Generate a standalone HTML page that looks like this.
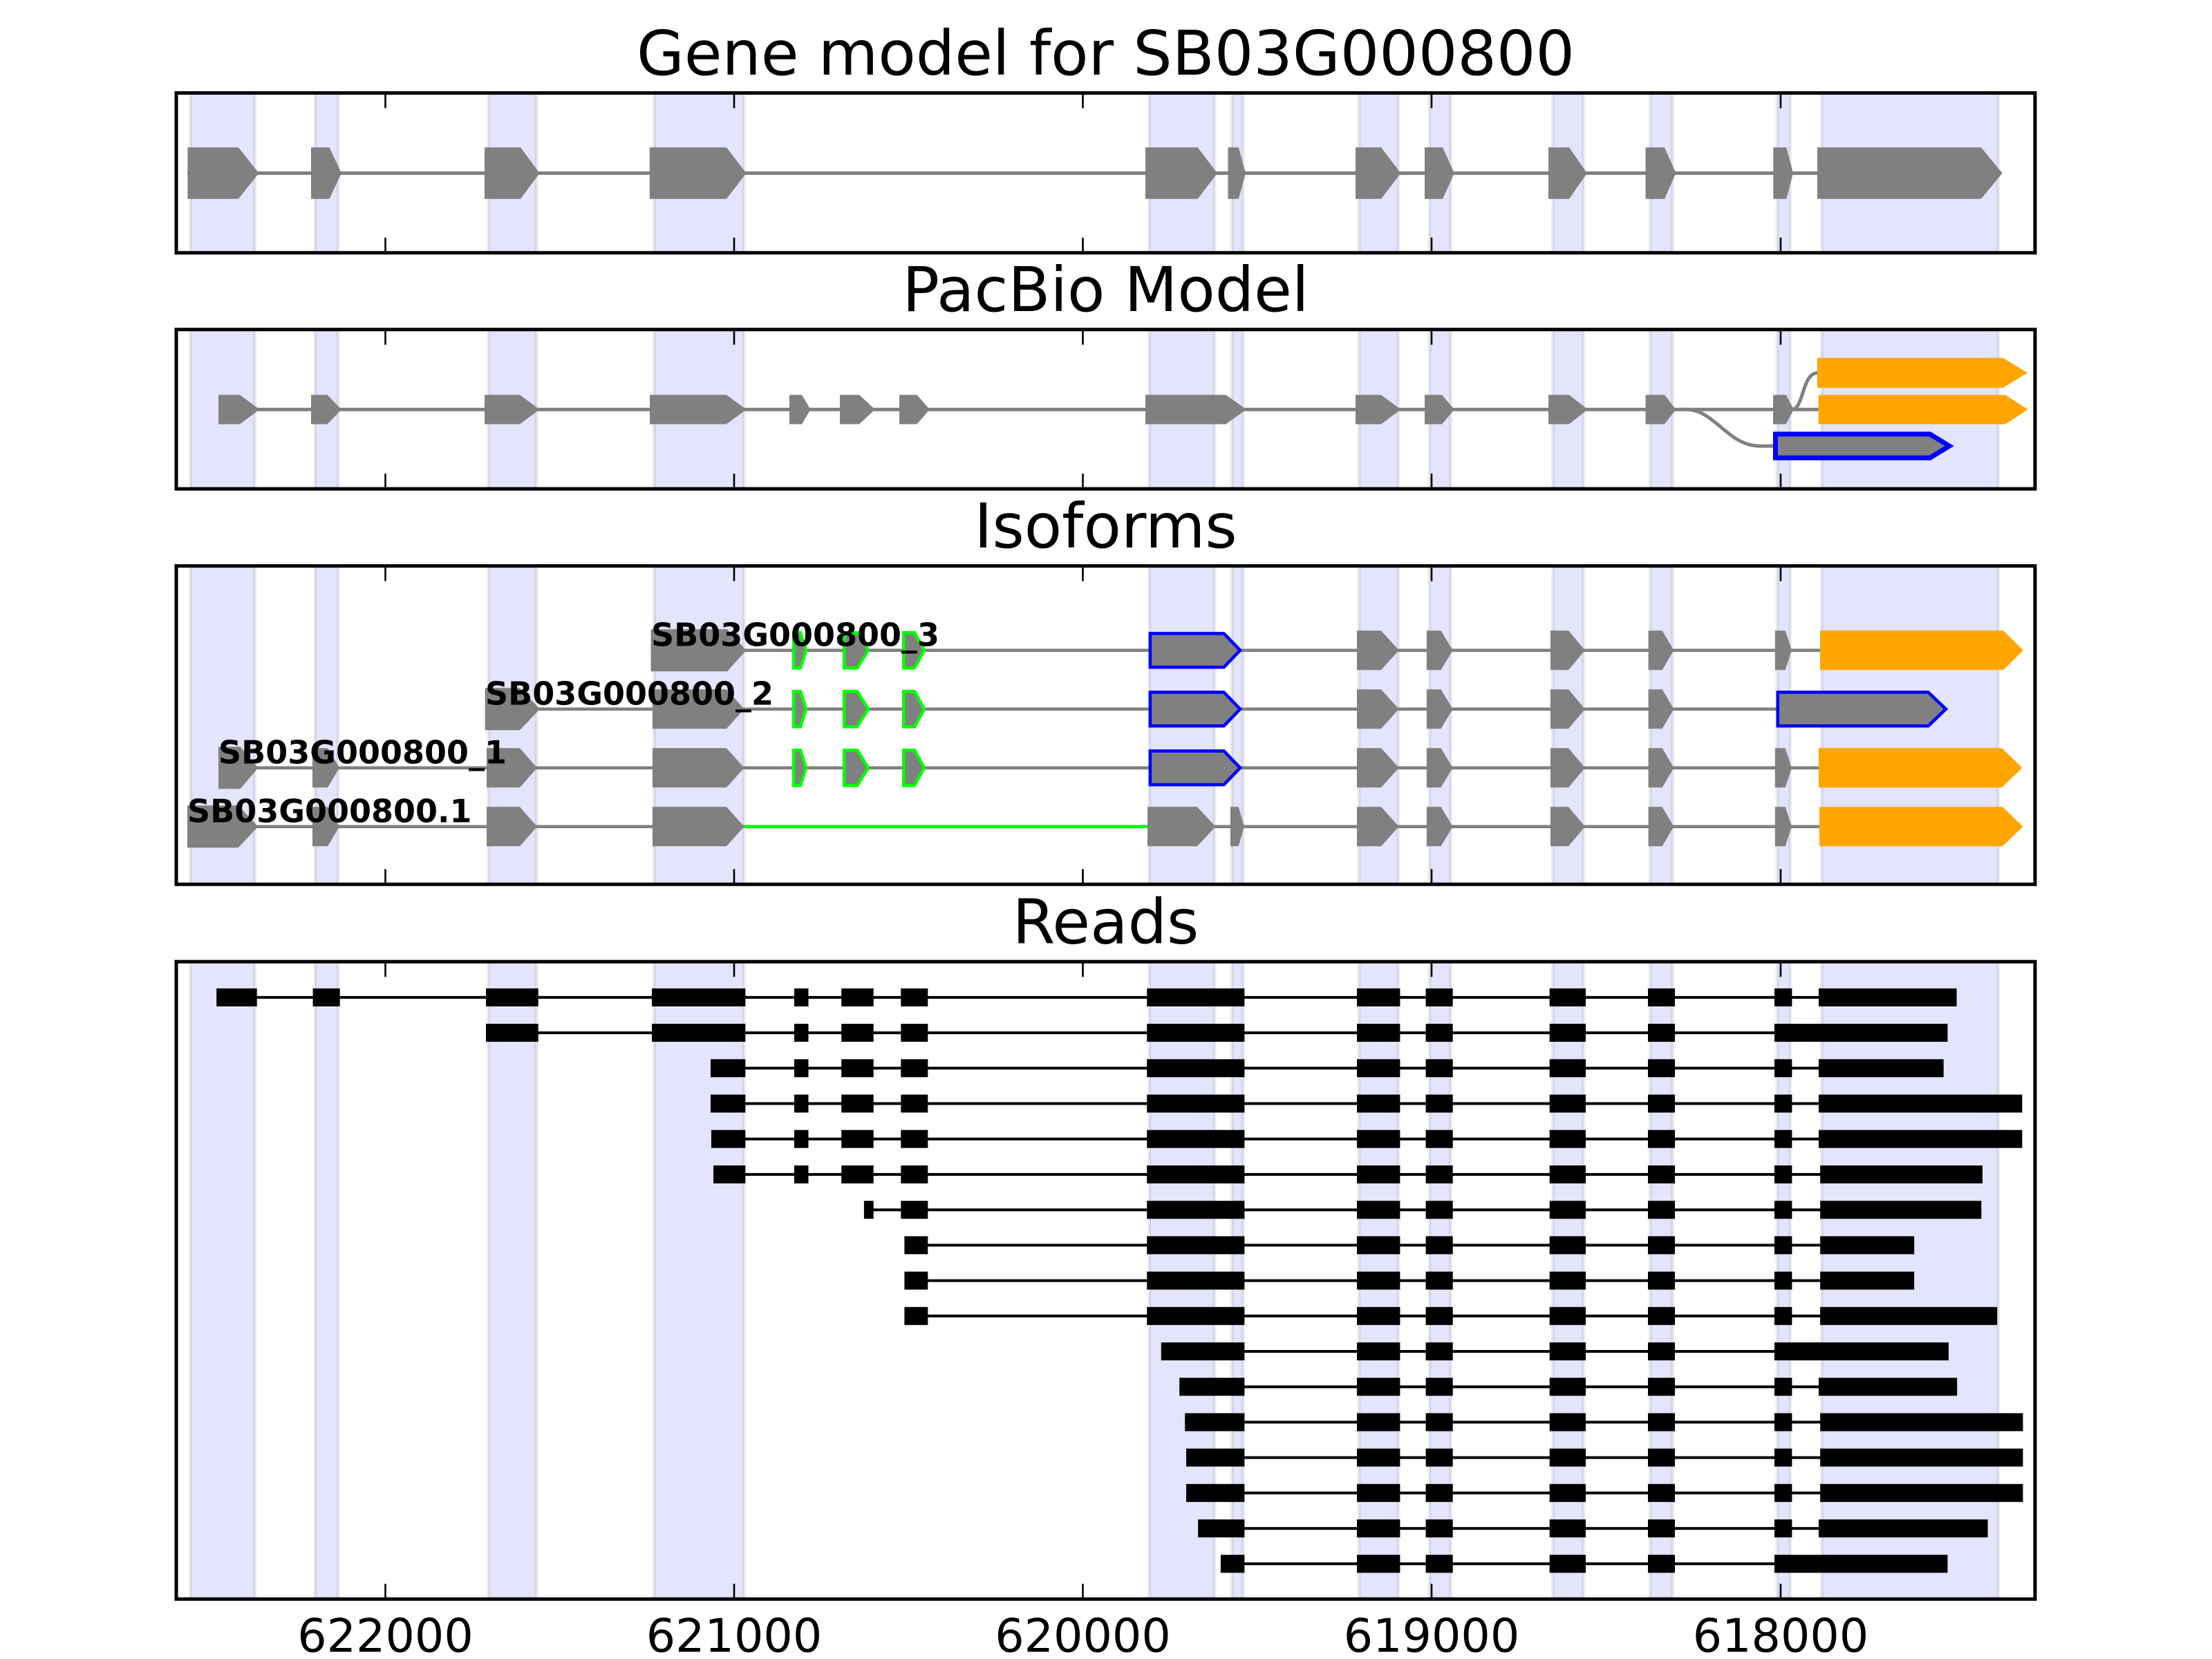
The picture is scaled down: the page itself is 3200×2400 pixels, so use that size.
<!DOCTYPE html>
<html><head><meta charset="utf-8"><style>html,body{margin:0;padding:0;background:#fff}svg{display:block}</style></head>
<body>
<svg xmlns="http://www.w3.org/2000/svg" xmlns:xlink="http://www.w3.org/1999/xlink" width="3200" height="2400" viewBox="0 0 3200 2400" font-family="'DejaVu Sans','Liberation Sans',sans-serif">
<defs>
<clipPath id="ax">
<rect x="255" y="134.5" width="2689" height="231.2"/>
<rect x="255" y="476.7" width="2689" height="230.5"/>
<rect x="255" y="818.7" width="2689" height="460.6"/>
<rect x="255" y="1391.2" width="2689" height="922.1"/>
</clipPath>
<g id="tt" stroke="#000" stroke-width="2.6">
<line x1="557.5" y1="0" x2="557.5" y2="22"/><line x1="1062" y1="0" x2="1062" y2="22"/><line x1="1566.5" y1="0" x2="1566.5" y2="22"/><line x1="2071" y1="0" x2="2071" y2="22"/><line x1="2576" y1="0" x2="2576" y2="22"/>
</g>
<g id="tb" stroke="#000" stroke-width="2.6">
<line x1="557.5" y1="-22" x2="557.5" y2="0"/><line x1="1062" y1="-22" x2="1062" y2="0"/><line x1="1566.5" y1="-22" x2="1566.5" y2="0"/><line x1="2071" y1="-22" x2="2071" y2="0"/><line x1="2576" y1="-22" x2="2576" y2="0"/>
</g>
<g id="EFG"><rect x="1149" y="-13" width="20.5" height="26"/><rect x="1217.2" y="-13" width="46.5" height="26"/><rect x="1303.3" y="-13" width="39" height="26"/></g>
<rect id="H" x="1659.2" y="-13" width="141.1" height="26"/>
<rect id="I" x="1963" y="-13" width="62.4" height="26"/>
<g id="JKL"><rect x="2062.6" y="-13" width="39.1" height="26"/><rect x="2241.7" y="-13" width="52.3" height="26"/><rect x="2384" y="-13" width="39" height="26"/></g>
<rect id="M" x="2567" y="-13" width="25.4" height="26"/>
</defs>

<rect width="3200" height="2400" fill="#fff"/>

<!-- shading -->
<g clip-path="url(#ax)" fill="#e4e4fc" stroke="rgba(0,0,0,0.075)" stroke-width="5">
<rect x="275.6" y="-10" width="93" height="2420"/>
<rect x="455.8" y="-10" width="33.4" height="2420"/>
<rect x="706.6" y="-10" width="69.5" height="2420"/>
<rect x="946.3" y="-10" width="130" height="2420"/>
<rect x="1662.8" y="-10" width="94.2" height="2420"/>
<rect x="1782" y="-10" width="16.4" height="2420"/>
<rect x="1966.1" y="-10" width="56.9" height="2420"/>
<rect x="2068" y="-10" width="30.6" height="2420"/>
<rect x="2246.5" y="-10" width="44.3" height="2420"/>
<rect x="2387.2" y="-10" width="32.5" height="2420"/>
<rect x="2571.2" y="-10" width="18.6" height="2420"/>
<rect x="2635.3" y="-10" width="255.7" height="2420"/>
</g>

<!-- titles -->
<g font-size="88.9" text-anchor="middle" fill="#000">
<text x="1599.5" y="108">Gene model for SB03G000800</text>
<text x="1599.5" y="450">PacBio Model</text>
<text x="1599.5" y="792">Isoforms</text>
<text x="1599.5" y="1364.7">Reads</text>
</g>

<!-- Panel 1: gene model -->
<g transform="translate(0,250.5)" fill="#808080">
<line x1="271" y1="0" x2="2629" y2="0" stroke="#808080" stroke-width="5"/>
<polygon points="271.4,-37.2 344.9,-37.2 374.5,0 344.9,37.2 271.4,37.2"/>
<polygon points="450,-37.2 476.5,-37.2 494,0 476.5,37.2 450,37.2"/>
<polygon points="701,-37.2 753,-37.2 780.6,0 753,37.2 701,37.2"/>
<polygon points="939.8,-37.2 1051,-37.2 1079.6,0 1051,37.2 939.8,37.2"/>
<polygon points="1657,-37.2 1732.7,-37.2 1761,0 1732.7,37.2 1657,37.2"/>
<polygon points="1776.5,-37.2 1791.8,-37.2 1802,0 1791.8,37.2 1776.5,37.2"/>
<polygon points="1961,-37.2 1998,-37.2 2026.5,0 1998,37.2 1961,37.2"/>
<polygon points="2061,-37.2 2087,-37.2 2104,0 2087,37.2 2061,37.2"/>
<polygon points="2240,-37.2 2270,-37.2 2296,0 2270,37.2 2240,37.2"/>
<polygon points="2380.6,-37.2 2408,-37.2 2424.5,0 2408,37.2 2380.6,37.2"/>
<polygon points="2565.3,-37.2 2584.3,-37.2 2594,0 2584.3,37.2 2565.3,37.2"/>
<polygon points="2629,-37.2 2866,-37.2 2896.7,0 2866,37.2 2629,37.2"/>
</g>

<!-- Panel 2: PacBio -->
<g transform="translate(0,592.4)" fill="#808080">
<line x1="316" y1="0" x2="2630.6" y2="0" stroke="#808080" stroke-width="5"/>
<path d="M2424,0 L2440,0 C2480,0 2500,52.8 2545,52.8 L2568,52.8" fill="none" stroke="#808080" stroke-width="5"/>
<path d="M2592,0 C2610,0 2606,-53 2630,-53" fill="none" stroke="#808080" stroke-width="5"/>
<polygon points="316,-21.2 347,-21.2 375.5,0 347,21.2 316,21.2"/>
<polygon points="450,-21.2 473.5,-21.2 494,0 473.5,21.2 450,21.2"/>
<polygon points="701,-21.2 752,-21.2 780.6,0 752,21.2 701,21.2"/>
<polygon points="940,-21.2 1051,-21.2 1079.6,0 1051,21.2 940,21.2"/>
<polygon points="1142,-21.2 1160,-21.2 1172.5,0 1160,21.2 1142,21.2"/>
<polygon points="1215,-21.2 1243,-21.2 1266,0 1243,21.2 1215,21.2"/>
<polygon points="1301,-21.2 1326.5,-21.2 1345,0 1326.5,21.2 1301,21.2"/>
<polygon points="1657,-21.2 1773.5,-21.2 1803,0 1773.5,21.2 1657,21.2"/>
<polygon points="1961,-21.2 1998,-21.2 2026.5,0 1998,21.2 1961,21.2"/>
<polygon points="2061,-21.2 2086,-21.2 2104,0 2086,21.2 2061,21.2"/>
<polygon points="2240,-21.2 2270,-21.2 2297,0 2270,21.2 2240,21.2"/>
<polygon points="2380.6,-21.2 2408,-21.2 2424.5,0 2408,21.2 2380.6,21.2"/>
<polygon points="2565,-21.2 2583.7,-21.2 2595,0 2583.7,21.2 2565,21.2"/>
<polygon points="2630.6,-21.2 2901,-21.2 2933.6,0 2901,21.2 2630.6,21.2" fill="#ffa500"/>
<polygon points="2629,-74.7 2897.7,-74.7 2933,-53 2897.7,-31.3 2629,-31.3" fill="#ffa500"/>
<polygon points="2568.5,35.6 2792,35.6 2820,52.8 2792,70 2568.5,70" stroke="#0000ff" stroke-width="7"/>
</g>

<!-- Panel 3: isoforms -->
<g fill="#808080">
<!-- Row 1 : _3 -->
<g transform="translate(0,940.8)">
<line x1="941.6" y1="0" x2="2633" y2="0" stroke="#808080" stroke-width="4.6"/>
<polygon points="941.6,-30.5 1052,-30.5 1079.5,0 1052,30.5 941.6,30.5"/>
<g stroke="#00ff00" stroke-width="4.6">
<polygon points="1148.3,-25.5 1158,-25.5 1166,0 1158,25.5 1148.3,25.5"/>
<polygon points="1221.3,-25.5 1240,-25.5 1256,0 1240,25.5 1221.3,25.5"/>
<polygon points="1307.3,-25.5 1323,-25.5 1337,0 1323,25.5 1307.3,25.5"/>
</g>
<polygon points="1663.9,-24.4 1770.5,-24.4 1794,0 1770.5,24.4 1663.9,24.4" stroke="#0000ff" stroke-width="4.6"/>
<polygon points="1963,-28.5 1998,-28.5 2023.7,0 1998,28.5 1963,28.5"/>
<polygon points="2063.8,-28.5 2084.4,-28.5 2101.7,0 2084.4,28.5 2063.8,28.5"/>
<polygon points="2243,-28.5 2269,-28.5 2293,0 2269,28.5 2243,28.5"/>
<polygon points="2384.6,-28.5 2404.7,-28.5 2421.4,0 2404.7,28.5 2384.6,28.5"/>
<polygon points="2567.8,-28.5 2582.7,-28.5 2592,0 2582.7,28.5 2567.8,28.5"/>
<polygon points="2633,-28.5 2898,-28.5 2927,0 2898,28.5 2633,28.5" fill="#ffa500"/>
<text x="942" y="-6.3" font-size="46" font-weight="bold" fill="#000">SB03G000800_3</text>
</g>
<!-- Row 2 : _2 -->
<g transform="translate(0,1025.8)">
<line x1="701.7" y1="0" x2="2572" y2="0" stroke="#808080" stroke-width="4.6"/>
<polygon points="701.7,-30.5 752,-30.5 781,0 752,30.5 701.7,30.5"/>
<polygon points="944,-28.5 1051,-28.5 1076.6,0 1051,28.5 944,28.5"/>
<g stroke="#00ff00" stroke-width="4.6">
<polygon points="1148.3,-25.5 1158,-25.5 1166,0 1158,25.5 1148.3,25.5"/>
<polygon points="1221.3,-25.5 1240,-25.5 1256,0 1240,25.5 1221.3,25.5"/>
<polygon points="1307.3,-25.5 1323,-25.5 1337,0 1323,25.5 1307.3,25.5"/>
</g>
<polygon points="1663.9,-24.4 1770.5,-24.4 1794,0 1770.5,24.4 1663.9,24.4" stroke="#0000ff" stroke-width="4.6"/>
<polygon points="1963,-28.5 1998,-28.5 2023.7,0 1998,28.5 1963,28.5"/>
<polygon points="2063.8,-28.5 2084.4,-28.5 2101.7,0 2084.4,28.5 2063.8,28.5"/>
<polygon points="2243,-28.5 2269,-28.5 2293,0 2269,28.5 2243,28.5"/>
<polygon points="2384.6,-28.5 2404.7,-28.5 2421.4,0 2404.7,28.5 2384.6,28.5"/>
<polygon points="2571.8,-24.4 2789.5,-24.4 2815,0 2789.5,24.4 2571.8,24.4" stroke="#0000ff" stroke-width="4.6"/>
<text x="702" y="-6.3" font-size="46" font-weight="bold" fill="#000">SB03G000800_2</text>
</g>
<!-- Row 3 : _1 -->
<g transform="translate(0,1110.8)">
<line x1="316" y1="0" x2="2632" y2="0" stroke="#808080" stroke-width="4.6"/>
<polygon points="316,-30.5 347.6,-30.5 373.4,0 347.6,30.5 316,30.5"/>
<polygon points="452,-28.5 474,-28.5 491,0 474,28.5 452,28.5"/>
<polygon points="704,-28.5 752,-28.5 777,0 752,28.5 704,28.5"/>
<polygon points="944,-28.5 1051,-28.5 1076.6,0 1051,28.5 944,28.5"/>
<g stroke="#00ff00" stroke-width="4.6">
<polygon points="1148.3,-25.5 1158,-25.5 1166,0 1158,25.5 1148.3,25.5"/>
<polygon points="1221.3,-25.5 1240,-25.5 1256,0 1240,25.5 1221.3,25.5"/>
<polygon points="1307.3,-25.5 1323,-25.5 1337,0 1323,25.5 1307.3,25.5"/>
</g>
<polygon points="1663.9,-24.4 1770.5,-24.4 1794,0 1770.5,24.4 1663.9,24.4" stroke="#0000ff" stroke-width="4.6"/>
<polygon points="1963,-28.5 1998,-28.5 2023.7,0 1998,28.5 1963,28.5"/>
<polygon points="2063.8,-28.5 2084.4,-28.5 2101.7,0 2084.4,28.5 2063.8,28.5"/>
<polygon points="2243,-28.5 2269,-28.5 2293,0 2269,28.5 2243,28.5"/>
<polygon points="2384.6,-28.5 2404.7,-28.5 2421.4,0 2404.7,28.5 2384.6,28.5"/>
<polygon points="2567.8,-28.5 2582.7,-28.5 2592,0 2582.7,28.5 2567.8,28.5"/>
<polygon points="2631,-28.5 2896,-28.5 2925.5,0 2896,28.5 2631,28.5" fill="#ffa500"/>
<text x="316" y="-6.3" font-size="46" font-weight="bold" fill="#000">SB03G000800_1</text>
</g>
<!-- Row 4 : .1 -->
<g transform="translate(0,1195.8)">
<line x1="271" y1="0" x2="1077" y2="0" stroke="#808080" stroke-width="4.6"/>
<line x1="1076.6" y1="0" x2="1663.7" y2="0" stroke="#00ff00" stroke-width="4.6"/>
<line x1="1663" y1="0" x2="2632" y2="0" stroke="#808080" stroke-width="4.6"/>
<polygon points="271,-30.5 344.7,-30.5 373.4,0 344.7,30.5 271,30.5"/>
<polygon points="452,-28.5 474,-28.5 491,0 474,28.5 452,28.5"/>
<polygon points="704,-28.5 752,-28.5 777,0 752,28.5 704,28.5"/>
<polygon points="944,-28.5 1051,-28.5 1076.6,0 1051,28.5 944,28.5"/>
<polygon points="1660,-28.5 1732,-28.5 1758.5,0 1732,28.5 1660,28.5"/>
<polygon points="1780,-28.5 1791.7,-28.5 1800,0 1791.7,28.5 1780,28.5"/>
<polygon points="1963,-28.5 1998,-28.5 2023.7,0 1998,28.5 1963,28.5"/>
<polygon points="2063.8,-28.5 2084.4,-28.5 2101.7,0 2084.4,28.5 2063.8,28.5"/>
<polygon points="2243,-28.5 2269,-28.5 2293,0 2269,28.5 2243,28.5"/>
<polygon points="2384.6,-28.5 2404.7,-28.5 2421.4,0 2404.7,28.5 2384.6,28.5"/>
<polygon points="2567.8,-28.5 2582.7,-28.5 2592,0 2582.7,28.5 2567.8,28.5"/>
<polygon points="2632,-28.5 2897,-28.5 2926.5,0 2897,28.5 2632,28.5" fill="#ffa500"/>
<text x="271" y="-6.3" font-size="46" font-weight="bold" fill="#000">SB03G000800.1</text>
</g>
</g>

<!-- Panel 4: reads -->
<g fill="#000" stroke="none">
<g transform="translate(0,1442.9)"><line x1="313.2" y1="0" x2="2830.6" y2="0" stroke="#000" stroke-width="4"/>
<rect x="313.2" y="-13" width="58.5" height="26"/><rect x="452.6" y="-13" width="39.1" height="26"/><rect x="703" y="-13" width="75.7" height="26"/><rect x="943" y="-13" width="135.3" height="26"/>
<use xlink:href="#EFG"/><use xlink:href="#H"/><use xlink:href="#I"/><use xlink:href="#JKL"/><use xlink:href="#M"/><rect x="2631" y="-13" width="199.6" height="26"/></g>

<g transform="translate(0,1494.1)"><line x1="703" y1="0" x2="2817.5" y2="0" stroke="#000" stroke-width="4"/>
<rect x="703" y="-13" width="75.7" height="26"/><rect x="943" y="-13" width="135.3" height="26"/>
<use xlink:href="#EFG"/><use xlink:href="#H"/><use xlink:href="#I"/><use xlink:href="#JKL"/><rect x="2567" y="-13" width="250.5" height="26"/></g>

<g transform="translate(0,1545.3)"><line x1="1028" y1="0" x2="2811.7" y2="0" stroke="#000" stroke-width="4"/>
<rect x="1028" y="-13" width="50.3" height="26"/>
<use xlink:href="#EFG"/><use xlink:href="#H"/><use xlink:href="#I"/><use xlink:href="#JKL"/><use xlink:href="#M"/><rect x="2631" y="-13" width="180.7" height="26"/></g>

<g transform="translate(0,1596.5)"><line x1="1028" y1="0" x2="2925.4" y2="0" stroke="#000" stroke-width="4"/>
<rect x="1028" y="-13" width="50.3" height="26"/>
<use xlink:href="#EFG"/><use xlink:href="#H"/><use xlink:href="#I"/><use xlink:href="#JKL"/><use xlink:href="#M"/><rect x="2631" y="-13" width="294.4" height="26"/></g>

<g transform="translate(0,1647.7)"><line x1="1029" y1="0" x2="2925.4" y2="0" stroke="#000" stroke-width="4"/>
<rect x="1029" y="-13" width="49.3" height="26"/>
<use xlink:href="#EFG"/><use xlink:href="#H"/><use xlink:href="#I"/><use xlink:href="#JKL"/><use xlink:href="#M"/><rect x="2631" y="-13" width="294.4" height="26"/></g>

<g transform="translate(0,1699)"><line x1="1032" y1="0" x2="2868" y2="0" stroke="#000" stroke-width="4"/>
<rect x="1032" y="-13" width="46.3" height="26"/>
<use xlink:href="#EFG"/><use xlink:href="#H"/><use xlink:href="#I"/><use xlink:href="#JKL"/><use xlink:href="#M"/><rect x="2633.2" y="-13" width="234.8" height="26"/></g>

<g transform="translate(0,1750.2)"><line x1="1249.9" y1="0" x2="2866.3" y2="0" stroke="#000" stroke-width="4"/>
<rect x="1249.9" y="-13" width="13.8" height="26"/><rect x="1303.3" y="-13" width="39" height="26"/>
<use xlink:href="#H"/><use xlink:href="#I"/><use xlink:href="#JKL"/><use xlink:href="#M"/><rect x="2633.2" y="-13" width="233.1" height="26"/></g>

<g transform="translate(0,1801.4)"><line x1="1308.4" y1="0" x2="2769.2" y2="0" stroke="#000" stroke-width="4"/>
<rect x="1308.4" y="-13" width="33.9" height="26"/>
<use xlink:href="#H"/><use xlink:href="#I"/><use xlink:href="#JKL"/><use xlink:href="#M"/><rect x="2633.2" y="-13" width="136" height="26"/></g>

<g transform="translate(0,1852.6)"><line x1="1308.4" y1="0" x2="2769.2" y2="0" stroke="#000" stroke-width="4"/>
<rect x="1308.4" y="-13" width="33.9" height="26"/>
<use xlink:href="#H"/><use xlink:href="#I"/><use xlink:href="#JKL"/><use xlink:href="#M"/><rect x="2633.2" y="-13" width="136" height="26"/></g>

<g transform="translate(0,1903.8)"><line x1="1308.4" y1="0" x2="2889.2" y2="0" stroke="#000" stroke-width="4"/>
<rect x="1308.4" y="-13" width="33.9" height="26"/>
<use xlink:href="#H"/><use xlink:href="#I"/><use xlink:href="#JKL"/><use xlink:href="#M"/><rect x="2633.2" y="-13" width="256" height="26"/></g>

<g transform="translate(0,1955)"><line x1="1679.8" y1="0" x2="2819" y2="0" stroke="#000" stroke-width="4"/>
<rect x="1679.8" y="-13" width="120.5" height="26"/>
<use xlink:href="#I"/><use xlink:href="#JKL"/><rect x="2567" y="-13" width="252" height="26"/></g>

<g transform="translate(0,2006.2)"><line x1="1706.2" y1="0" x2="2831.2" y2="0" stroke="#000" stroke-width="4"/>
<rect x="1706.2" y="-13" width="94.1" height="26"/>
<use xlink:href="#I"/><use xlink:href="#JKL"/><use xlink:href="#M"/><rect x="2631" y="-13" width="200.2" height="26"/></g>

<g transform="translate(0,2057.4)"><line x1="1714.2" y1="0" x2="2926.5" y2="0" stroke="#000" stroke-width="4"/>
<rect x="1714.2" y="-13" width="86.1" height="26"/>
<use xlink:href="#I"/><use xlink:href="#JKL"/><use xlink:href="#M"/><rect x="2633.2" y="-13" width="293.3" height="26"/></g>

<g transform="translate(0,2108.6)"><line x1="1716" y1="0" x2="2926.5" y2="0" stroke="#000" stroke-width="4"/>
<rect x="1716" y="-13" width="84.3" height="26"/>
<use xlink:href="#I"/><use xlink:href="#JKL"/><use xlink:href="#M"/><rect x="2633.2" y="-13" width="293.3" height="26"/></g>

<g transform="translate(0,2159.8)"><line x1="1716" y1="0" x2="2926.5" y2="0" stroke="#000" stroke-width="4"/>
<rect x="1716" y="-13" width="84.3" height="26"/>
<use xlink:href="#I"/><use xlink:href="#JKL"/><use xlink:href="#M"/><rect x="2633.2" y="-13" width="293.3" height="26"/></g>

<g transform="translate(0,2211.1)"><line x1="1733.2" y1="0" x2="2875.6" y2="0" stroke="#000" stroke-width="4"/>
<rect x="1733.2" y="-13" width="67.1" height="26"/>
<use xlink:href="#I"/><use xlink:href="#JKL"/><use xlink:href="#M"/><rect x="2631" y="-13" width="244.6" height="26"/></g>

<g transform="translate(0,2262.3)"><line x1="1765.9" y1="0" x2="2817.5" y2="0" stroke="#000" stroke-width="4"/>
<rect x="1765.9" y="-13" width="34.4" height="26"/>
<use xlink:href="#I"/><use xlink:href="#JKL"/><rect x="2567" y="-13" width="250.5" height="26"/></g>
</g>

<!-- ticks -->
<use xlink:href="#tt" y="134.5"/><use xlink:href="#tb" y="365.7"/>
<use xlink:href="#tt" y="476.7"/><use xlink:href="#tb" y="707.2"/>
<use xlink:href="#tt" y="818.7"/><use xlink:href="#tb" y="1279.3"/>
<use xlink:href="#tt" y="1391.2"/><use xlink:href="#tb" y="2313.3"/>

<!-- spines -->
<g fill="none" stroke="#000" stroke-width="5">
<rect x="255" y="134.5" width="2689" height="231.2"/>
<rect x="255" y="476.7" width="2689" height="230.5"/>
<rect x="255" y="818.7" width="2689" height="460.6"/>
<rect x="255" y="1391.2" width="2689" height="922.1"/>
</g>

<!-- tick labels -->
<g font-size="66.7" text-anchor="middle" fill="#000">
<text x="557.5" y="2389.5">622000</text>
<text x="1062" y="2389.5">621000</text>
<text x="1566.5" y="2389.5">620000</text>
<text x="2071" y="2389.5">619000</text>
<text x="2576" y="2389.5">618000</text>
</g>
</svg>
</body></html>
